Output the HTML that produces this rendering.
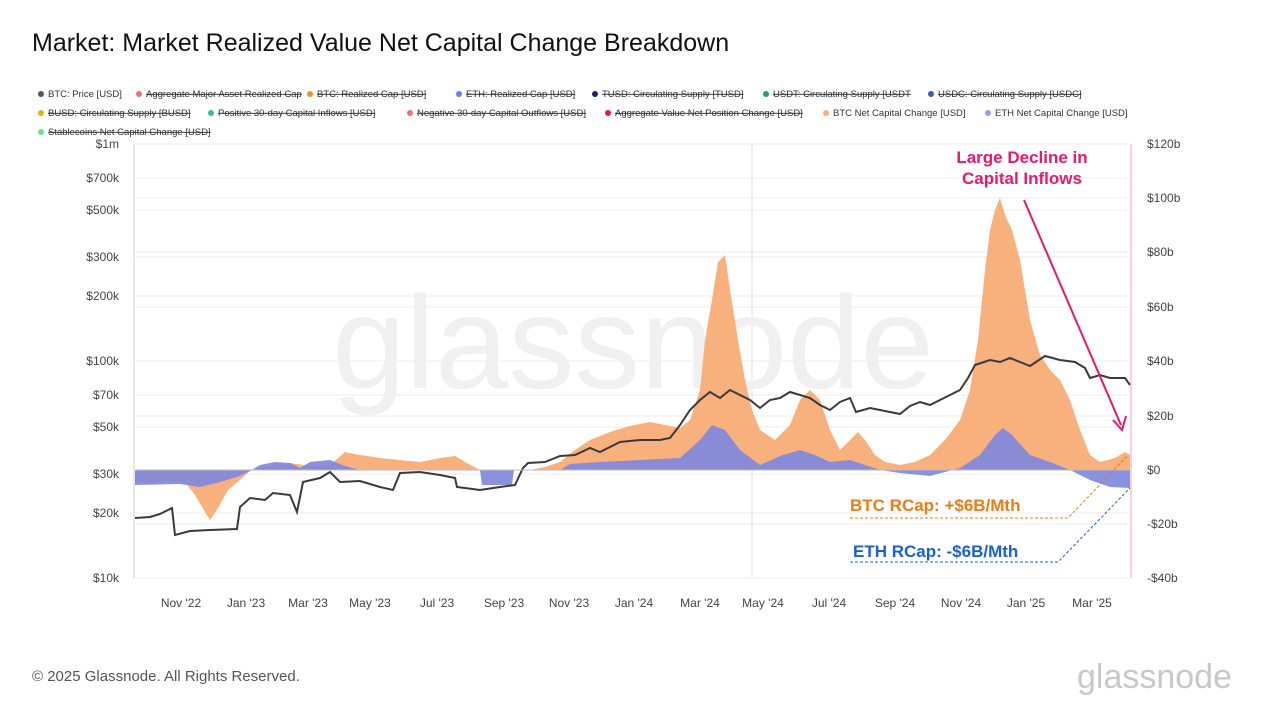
<!DOCTYPE html>
<html><head><meta charset="utf-8"><style>
body{margin:0;background:#fff;font-family:"Liberation Sans",sans-serif;}
</style></head><body>
<svg width="1265" height="712" xmlns="http://www.w3.org/2000/svg" font-family="Liberation Sans, sans-serif">
<rect width="1265" height="712" fill="#fff"/>
<text x="32" y="51" font-size="25" fill="#111">Market: Market Realized Value Net Capital Change Breakdown</text>
<g font-size="9.5" fill="#333">
<circle cx="41" cy="94" r="3" fill="#555"/><text x="48" y="97">BTC: Price [USD]</text>
<circle cx="139" cy="94" r="3" fill="#f07070"/><text x="146" y="97" text-decoration="line-through">Aggregate Major Asset Realized Cap</text>
<circle cx="310" cy="94" r="3" fill="#f09030"/><text x="317" y="97" text-decoration="line-through">BTC: Realized Cap [USD]</text>
<circle cx="459" cy="94" r="3" fill="#6a80e0"/><text x="466" y="97" text-decoration="line-through">ETH: Realized Cap [USD]</text>
<circle cx="595" cy="94" r="3" fill="#202070"/><text x="602" y="97" text-decoration="line-through">TUSD: Circulating Supply [TUSD]</text>
<circle cx="766" cy="94" r="3" fill="#20a070"/><text x="773" y="97" text-decoration="line-through">USDT: Circulating Supply [USDT</text>
<circle cx="931" cy="94" r="3" fill="#3060c0"/><text x="938" y="97" text-decoration="line-through">USDC: Circulating Supply [USDC]</text>
<circle cx="41" cy="113" r="3" fill="#e8b020"/><text x="48" y="116" text-decoration="line-through">BUSD: Circulating Supply [BUSD]</text>
<circle cx="211" cy="113" r="3" fill="#30c090"/><text x="218" y="116" text-decoration="line-through">Positive 30-day Capital Inflows [USD]</text>
<circle cx="410" cy="113" r="3" fill="#f07070"/><text x="417" y="116" text-decoration="line-through">Negative 30-day Capital Outflows [USD]</text>
<circle cx="608" cy="113" r="3" fill="#e02030"/><text x="615" y="116" text-decoration="line-through">Aggregate Value Net Position Change [USD]</text>
<circle cx="826" cy="113" r="3" fill="#f8b080"/><text x="833" y="116">BTC Net Capital Change [USD]</text>
<circle cx="988" cy="113" r="3" fill="#95a0ec"/><text x="995" y="116">ETH Net Capital Change [USD]</text>
<circle cx="41" cy="132" r="3" fill="#70e090"/><text x="48" y="135" text-decoration="line-through">Stablecoins Net Capital Change [USD]</text>
</g>
<g stroke="#eee" stroke-width="1">
<line x1="135" y1="144" x2="1130" y2="144"/><line x1="135" y1="178" x2="1130" y2="178"/><line x1="135" y1="210" x2="1130" y2="210"/><line x1="135" y1="257" x2="1130" y2="257"/><line x1="135" y1="296" x2="1130" y2="296"/><line x1="135" y1="361" x2="1130" y2="361"/><line x1="135" y1="395" x2="1130" y2="395"/><line x1="135" y1="427" x2="1130" y2="427"/><line x1="135" y1="474" x2="1130" y2="474"/><line x1="135" y1="513" x2="1130" y2="513"/><line x1="135" y1="578" x2="1130" y2="578"/>
<line x1="135" y1="198" x2="1130" y2="198"/><line x1="135" y1="252" x2="1130" y2="252"/><line x1="135" y1="307" x2="1130" y2="307"/><line x1="135" y1="416" x2="1130" y2="416"/><line x1="135" y1="524" x2="1130" y2="524"/>
<line x1="752" y1="144" x2="752" y2="578" stroke="#e4e4e4"/>
</g>
<text x="633" y="388" font-size="132" fill="#f0f0f0" text-anchor="middle">glassnode</text>
<polygon fill="#f8b07c" points="135,470 135,482 150,483 170,481 185,482 195,495 205,512 210,520 218,508 228,490 240,480 250,471 270,466 290,463 310,466 330,465 345,452 360,455 380,458 400,460 420,462 440,458 455,456 465,462 480,470 530,470 545,467 560,462 575,450 590,440 610,432 630,426 650,422 665,425 680,428 690,420 700,390 705,340 712,300 718,262 725,255 730,290 738,340 745,380 752,410 760,430 775,440 790,425 800,400 810,390 820,400 830,430 840,450 850,440 858,432 865,440 875,455 885,462 900,465 915,462 930,455 945,440 960,420 970,390 978,340 985,270 990,230 995,210 1000,198 1005,215 1012,230 1020,260 1030,320 1040,355 1050,370 1060,380 1070,400 1080,430 1090,455 1100,462 1115,458 1125,452 1130,455 1130,470"/>
<polygon fill="#8088dc" fill-opacity="0.92" points="135,470 135,485 180,484 200,487 220,482 240,476 250,471 260,465 275,462 290,463 300,468 310,462 330,460 345,466 360,470 480,470 482,485 512,485 514,470 560,470 570,464 600,462 640,460 680,458 700,440 712,425 725,430 740,450 760,465 780,456 800,450 815,455 830,462 850,460 880,470 900,473 930,476 960,468 980,455 995,435 1003,428 1012,435 1030,455 1050,462 1070,470 1090,480 1110,487 1130,488 1130,470"/>
<polyline fill="none" stroke="#3a3a3a" stroke-width="2" points="135,518 150,517 160,514 172,508 175,535 190,531 210,530 237,529 240,507 250,498 265,500 273,493 290,495 297,512 303,482 320,478 330,472 340,482 360,481 380,487 393,490 400,473 420,472 440,475 455,478 457,487 480,490 500,487 515,485 523,468 528,463 545,462 560,456 575,455 590,448 600,452 620,442 640,440 660,440 670,438 680,425 690,410 700,400 710,392 720,398 730,390 740,395 750,400 760,408 770,400 780,398 790,392 800,395 810,398 820,405 830,410 840,402 850,398 856,412 870,408 880,410 890,412 900,414 910,406 920,402 930,405 940,400 950,395 960,390 968,378 975,365 990,360 1000,362 1010,358 1020,362 1030,366 1045,356 1060,360 1075,362 1085,368 1090,378 1100,375 1110,378 1125,378 1130,385"/>
<line x1="134" y1="144" x2="134" y2="578" stroke="#ccc"/>
<line x1="1131" y1="144" x2="1131" y2="578" stroke="#f4a0b8"/>
<line x1="135" y1="470" x2="1130" y2="470" stroke="#bbb" stroke-width="1"/>
<g font-size="12" fill="#444" text-anchor="end">
<text x="119" y="148">$1m</text><text x="119" y="182">$700k</text><text x="119" y="214">$500k</text><text x="119" y="261">$300k</text><text x="119" y="300">$200k</text><text x="119" y="365">$100k</text><text x="119" y="399">$70k</text><text x="119" y="431">$50k</text><text x="119" y="478">$30k</text><text x="119" y="517">$20k</text><text x="119" y="582">$10k</text>
</g>
<g font-size="12" fill="#444">
<text x="1147" y="148">$120b</text><text x="1147" y="202">$100b</text><text x="1147" y="256">$80b</text><text x="1147" y="311">$60b</text><text x="1147" y="365">$40b</text><text x="1147" y="420">$20b</text><text x="1147" y="474">$0</text><text x="1147" y="528">-$20b</text><text x="1147" y="582">-$40b</text>
</g>
<g font-size="12" fill="#444" text-anchor="middle">
<text x="181" y="607">Nov '22</text><text x="246" y="607">Jan '23</text><text x="308" y="607">Mar '23</text><text x="370" y="607">May '23</text><text x="437" y="607">Jul '23</text><text x="504" y="607">Sep '23</text><text x="569" y="607">Nov '23</text><text x="634" y="607">Jan '24</text><text x="700" y="607">Mar '24</text><text x="763" y="607">May '24</text><text x="829" y="607">Jul '24</text><text x="895" y="607">Sep '24</text><text x="961" y="607">Nov '24</text><text x="1026" y="607">Jan '25</text><text x="1092" y="607">Mar '25</text>
</g>
<g font-size="17" font-weight="bold" fill="#e8196a" text-anchor="middle"><text x="1022" y="163">Large Decline in</text><text x="1022" y="184">Capital Inflows</text></g>
<line x1="1024" y1="200" x2="1121" y2="425" stroke="#e8196a" stroke-width="2"/>
<polyline points="1113,420 1122,430 1126,416" fill="none" stroke="#e8196a" stroke-width="2"/>
<text x="850" y="511" font-size="17" font-weight="bold" fill="#f07a14">BTC RCap: +$6B/Mth</text>
<polyline points="850,518 1068,518 1128,455" fill="none" stroke="#f07a14" stroke-width="1" stroke-dasharray="3,2"/>
<text x="853" y="557" font-size="17" font-weight="bold" fill="#1a5fd6">ETH RCap: -$6B/Mth</text>
<polyline points="850,562 1058,562 1130,488" fill="none" stroke="#1a5fd6" stroke-width="1" stroke-dasharray="3,2"/>
<text x="32" y="681" font-size="15" fill="#555">© 2025 Glassnode. All Rights Reserved.</text>
<text x="1232" y="688" font-size="34" fill="#c8c8c8" text-anchor="end">glassnode</text>
</svg>
</body></html>
